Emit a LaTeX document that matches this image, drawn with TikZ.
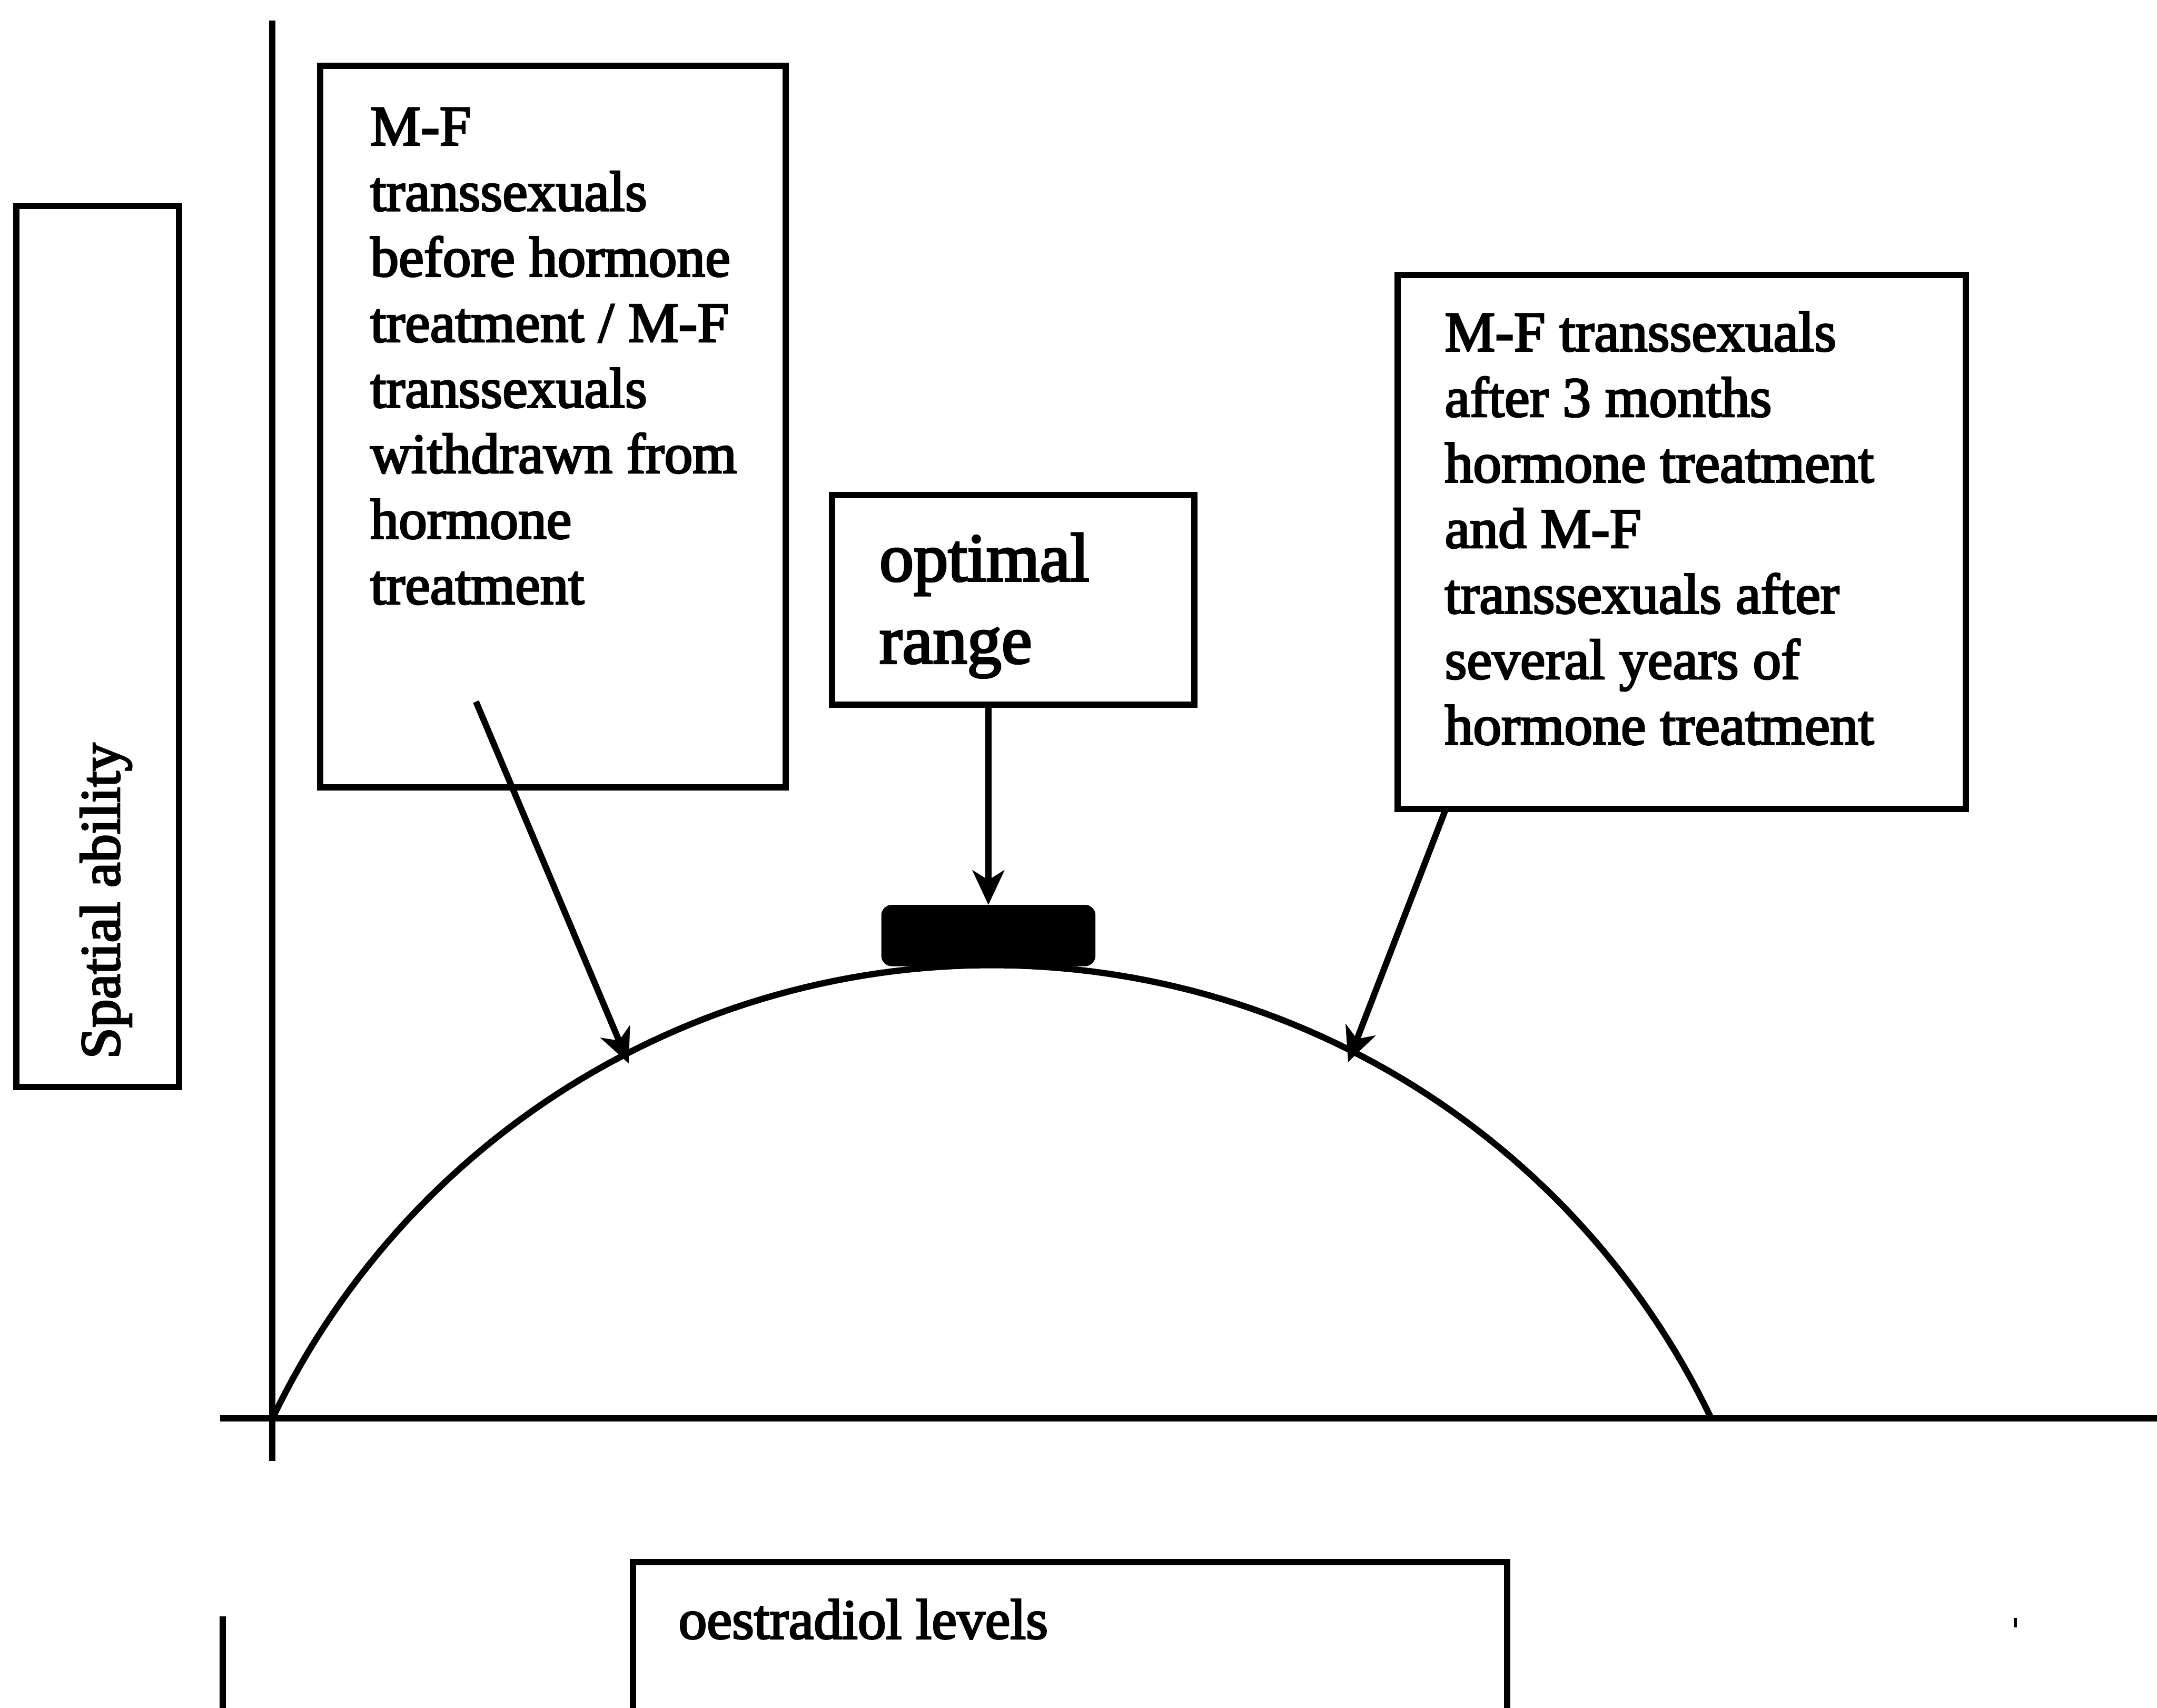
\documentclass[tikz,border=0pt]{standalone}
\usepackage{fontspec}
\setmainfont{Liberation Serif}[FakeBold=3]
\usetikzlibrary{arrows.meta}
\begin{document}
\begin{tikzpicture}[x=0.01cm,y=-0.01cm,
  line width=1.3pt,
  box/.style={draw, line width=1.3pt, inner sep=0, minimum width=#1},
  txt/.style={anchor=base west, align=left, inner sep=0, font=\fontsize{11.7}{13.55}\selectfont},
  big/.style={anchor=base west, align=left, inner sep=0, font=\fontsize{14.2}{17}\selectfont},
  arr/.style={-{Stealth[length=0.25cm,width=0.23cm,inset=0.07cm]}, line width=1.3pt}]
\useasboundingbox (0,0) rectangle (1568,1241.2);

% axes
\coordinate (ytop) at (198,15);
\coordinate (ybot) at (198,1062);
\coordinate (xl) at (160,1031);
\coordinate (xr) at (1570,1031);
\draw (ytop) -- (ybot);
\draw (xl) -- (xr);

% curve (circular arc)
\draw plot[domain=-154.43:-25.57, samples=120] ({721+579.8*cos(\x)}, {1281.3+579.8*sin(\x)});

% y label box
\node[box=1.18cm, minimum height=6.4cm] (ylab) at (71,470) {};
\node[rotate=90, anchor=west, inner sep=0, font=\fontsize{11.7}{13.55}\selectfont] (ylabt) at (77,772) {Spatial ability};

% box 1
\node[box=3.38cm, minimum height=5.24cm] (b1) at (402,310) {};
\node[txt] (b1t) at (267,439) {M-F\\transsexuals\\before hormone\\treatment / M-F\\transsexuals\\withdrawn from\\hormone\\treatment};

% optimal range box
\node[box=2.63cm, minimum height=1.52cm] (b2) at (736.5,436) {};
\node[big] (b2t) at (637,482) {optimal\\range};

% black optimal bar
\node[fill=black, draw=black, rounded corners=1.5pt, minimum width=1.51cm, minimum height=0.4cm, inner sep=0] (opt) at (718.5,680) {};

% right box
\node[box=4.13cm, minimum height=3.88cm] (b3) at (1222.5,394) {};
\node[txt] (b3t) at (1048,541) {M-F transsexuals\\after 3 months\\hormone treatment\\and M-F\\transsexuals after\\several years of\\hormone treatment};

% arrows
\coordinate (a1s) at (346,510);
\coordinate (a1e) at (457,773);
\coordinate (a3s) at (1051,588);
\coordinate (a3e) at (980,772);
\draw[arr] (a1s) -- (a1e);
\draw[arr] (b2.south -| opt.north) -- (opt.north);
\draw[arr] (a3s) -- (a3e);

% bottom box (cut off by page)
\node[box=6.35cm, minimum height=2cm, anchor=north west] (b4) at (458,1133) {};
\node[txt] (b4t) at (491,1191) {oestradiol levels};

% stray marks
\coordinate (m1a) at (162,1175);
\coordinate (m1b) at (162,1245);
\draw (m1a) -- (m1b);
\coordinate (m2a) at (1465,1176);
\coordinate (m2b) at (1465,1183);
\draw[line width=0.6pt] (m2a) -- (m2b);
\end{tikzpicture}
\end{document}
